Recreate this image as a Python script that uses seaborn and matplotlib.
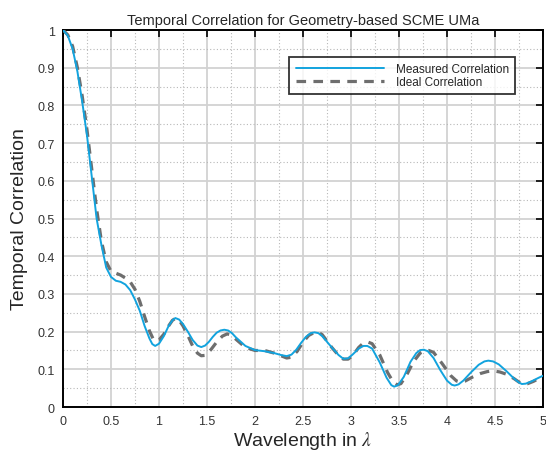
import numpy as np
import pandas as pd
import matplotlib
matplotlib.use("Agg")
import matplotlib.pyplot as plt
from matplotlib.ticker import MultipleLocator, FuncFormatter
import seaborn as sns

# Measured correlation
meas_x = [0, 0.05, 0.1, 0.15, 0.2, 0.25, 0.3, 0.35, 0.4, 0.45, 0.5, 0.55, 0.6, 0.65, 0.7, 0.75,
          0.8, 0.85, 0.9, 0.93, 0.96, 1.0, 1.05, 1.1, 1.14, 1.17, 1.21, 1.25, 1.3, 1.35, 1.4, 1.44,
          1.48, 1.52, 1.56, 1.6, 1.64, 1.68, 1.72, 1.76, 1.8, 1.9, 2.0, 2.1, 2.2, 2.27, 2.33,
          2.38, 2.43, 2.48, 2.53, 2.58, 2.62, 2.66, 2.7, 2.8, 2.87, 2.92, 2.97, 3.02, 3.08, 3.13,
          3.17, 3.22, 3.3, 3.37, 3.42, 3.45, 3.49, 3.55, 3.62, 3.68, 3.72, 3.76, 3.8, 3.86, 3.93,
          4.0, 4.05, 4.08, 4.12, 4.17, 4.25, 4.33, 4.39, 4.43, 4.48, 4.54, 4.62, 4.7, 4.75, 4.78,
          4.82, 4.88, 4.95, 5.0]
meas_y = [1.0, 0.985, 0.95, 0.89, 0.81, 0.72, 0.61, 0.50, 0.43, 0.37, 0.345, 0.335, 0.332,
          0.325, 0.31, 0.285, 0.255, 0.215, 0.182, 0.167, 0.162, 0.168, 0.188, 0.215, 0.23,
          0.236, 0.232, 0.22, 0.20, 0.178, 0.163, 0.159, 0.163, 0.173, 0.186, 0.197, 0.203,
          0.205, 0.203, 0.196, 0.185, 0.162, 0.151, 0.148, 0.143, 0.138, 0.135, 0.139, 0.152,
          0.17, 0.186, 0.196, 0.198, 0.196, 0.188, 0.158, 0.138, 0.128, 0.129, 0.14, 0.155,
          0.162, 0.162, 0.155, 0.118, 0.078, 0.058, 0.054, 0.058, 0.08, 0.12, 0.143, 0.151,
          0.152, 0.148, 0.13, 0.098, 0.07, 0.059, 0.057, 0.06, 0.07, 0.092, 0.112, 0.121,
          0.123, 0.121, 0.113, 0.095, 0.075, 0.065, 0.061, 0.062, 0.068, 0.077, 0.083]

# Ideal correlation
ideal_x = [0, 0.05, 0.1, 0.15, 0.2, 0.25, 0.3, 0.35, 0.4, 0.45, 0.5, 0.55, 0.6, 0.65, 0.7, 0.75,
           0.8, 0.85, 0.9, 0.94, 0.97, 1.0, 1.05, 1.1, 1.14, 1.17, 1.21, 1.25, 1.3, 1.35, 1.4,
           1.44, 1.48, 1.54, 1.6, 1.66, 1.71, 1.75, 1.8, 1.9, 2.0, 2.1, 2.2, 2.27, 2.33, 2.38,
           2.44, 2.5, 2.56, 2.62, 2.66, 2.7, 2.8, 2.87, 2.92, 2.97, 3.02, 3.08, 3.13, 3.17, 3.22,
           3.3, 3.38, 3.44, 3.48, 3.52, 3.58, 3.65, 3.72, 3.77, 3.81, 3.86, 3.95, 4.04, 4.1, 4.14,
           4.19, 4.27, 4.35, 4.42, 4.48, 4.55, 4.62, 4.7, 4.75, 4.79, 4.84, 4.9, 4.96, 5.0]
ideal_y = [1.0, 0.987, 0.957, 0.9, 0.825, 0.735, 0.63, 0.525, 0.44, 0.385, 0.36, 0.355, 0.35,
           0.342, 0.332, 0.312, 0.28, 0.24, 0.202, 0.18, 0.175, 0.178, 0.193, 0.215, 0.23, 0.235,
           0.23, 0.215, 0.19, 0.162, 0.143, 0.136, 0.137, 0.152, 0.172, 0.188, 0.194, 0.191,
           0.18, 0.158, 0.15, 0.15, 0.143, 0.136, 0.13, 0.132, 0.148, 0.172, 0.19, 0.198, 0.198,
           0.192, 0.158, 0.137, 0.127, 0.127, 0.137, 0.158, 0.17, 0.173, 0.168, 0.138, 0.092,
           0.066, 0.059, 0.062, 0.085, 0.12, 0.143, 0.149, 0.15, 0.145, 0.115, 0.083, 0.069,
           0.066, 0.069, 0.08, 0.089, 0.094, 0.096, 0.093, 0.087, 0.075, 0.066, 0.062, 0.062,
           0.068, 0.076, 0.08]

title = "Temporal Correlation for Geometry-based SCME UMa"
xlabel = "Wavelength in $\\lambda$"
ylabel = "Temporal Correlation"
labels = ["Measured Correlation", "Ideal Correlation"]

sns.set_style("white")
plt.rcParams["font.family"] = ["Liberation Sans", "DejaVu Sans"]
plt.rcParams["mathtext.fontset"] = "stix"

fig = plt.figure(figsize=(5.46, 4.52), dpi=100)
ax = fig.add_axes([0.1154, 0.0973, 0.9945 - 0.1154, 0.9314 - 0.0973])

dm = pd.DataFrame({"x": meas_x, "y": meas_y})
di = pd.DataFrame({"x": ideal_x, "y": ideal_y})
sns.lineplot(data=dm, x="x", y="y", ax=ax, color="#12A3DE", lw=1.4, label=labels[0], zorder=4)
sns.lineplot(data=di, x="x", y="y", ax=ax, color="#6e6e6e", lw=2.3, label=labels[1], zorder=3)
ax.lines[1].set_dashes((3, 2.3))

ax.set_xlim(0, 5)
ax.set_ylim(0, 1)
ax.xaxis.set_major_locator(MultipleLocator(0.5))
ax.yaxis.set_major_locator(MultipleLocator(0.1))
ax.xaxis.set_minor_locator(MultipleLocator(0.25))
ax.yaxis.set_minor_locator(MultipleLocator(0.05))
ax.xaxis.set_major_formatter(FuncFormatter(lambda v, p: f"{v:g}"))
ax.yaxis.set_major_formatter(FuncFormatter(lambda v, p: f"{v:g}"))
ax.grid(True, which="major", color="#d2d2d2", lw=1.3, ls="-", zorder=0)
ax.grid(True, which="minor", color="#b8b8b8", lw=0.8, ls=(0, (1, 2)), zorder=0)
ax.set_axisbelow(True)

ax.tick_params(which="major", direction="in", length=5, width=1.2, top=True, right=True,
               labelsize=9, color="black", labelcolor="#333333", pad=6)
ax.tick_params(which="minor", length=0)
for s in ax.spines.values():
    s.set_color("black")
    s.set_linewidth(1.4)

ax.set_title(title, fontsize=10.5, pad=4)
ax.set_xlabel(xlabel, fontsize=14, labelpad=1)
ax.set_ylabel(ylabel, fontsize=14, labelpad=7)

leg = ax.legend(loc="upper right", bbox_to_anchor=(0.955, 0.945), fontsize=8.5, frameon=True,
                fancybox=False, edgecolor="black", handlelength=7.5, borderpad=0.55,
                labelspacing=0.05, handletextpad=1.0)
leg.get_frame().set_linewidth(1.3)

fig.savefig("out.png", dpi=100)
